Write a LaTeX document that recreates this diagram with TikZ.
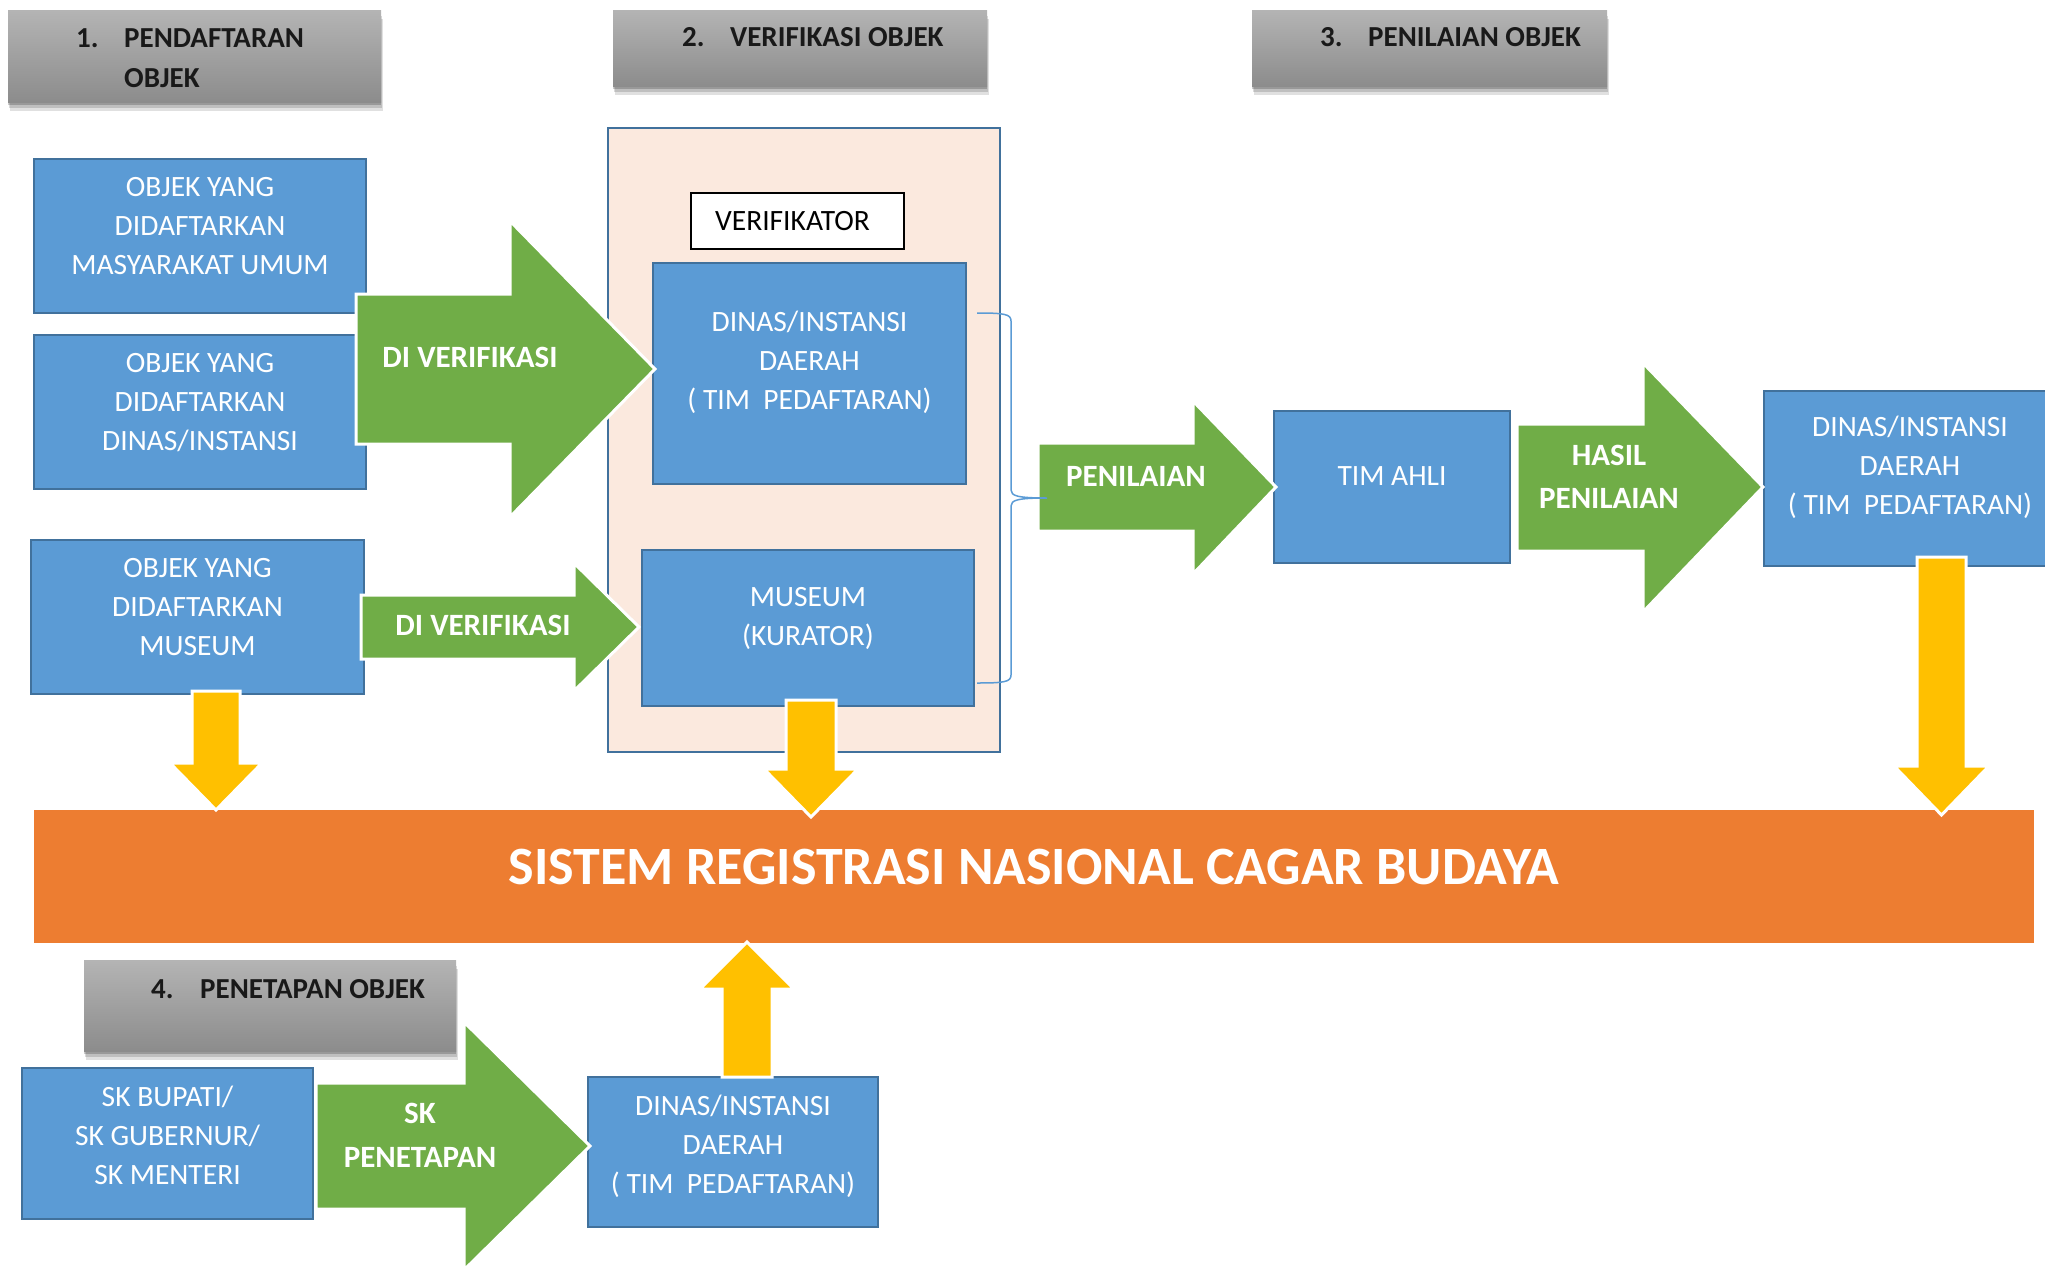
\documentclass[tikz,border=0pt]{standalone}
\usepackage{fontspec}
\setmainfont{Carlito}
\usetikzlibrary{shadows,positioning}
\definecolor{boxblue}{RGB}{91,155,213}
\definecolor{boxedge}{RGB}{65,113,156}
\definecolor{arrgreen}{RGB}{112,173,71}
\definecolor{arryellow}{RGB}{255,192,0}
\definecolor{barorange}{RGB}{237,125,49}
\definecolor{peach}{RGB}{251,233,222}
\definecolor{hdtop}{RGB}{180,180,180}
\definecolor{hdbot}{RGB}{140,140,140}

\begin{document}
\begin{tikzpicture}[x=1pt, y=-1pt,
        box/.style={rectangle, draw=boxedge, line width=2.5pt, fill=boxblue, text=white, align=center, inner sep=0pt, text depth=5pt, font=\fontsize{29.5pt}{39pt}\selectfont},
        header/.style={rectangle, draw=none, top color=hdtop, bottom color=hdbot,
            drop shadow={shadow xshift=2pt, shadow yshift=-9pt, opacity=0.12, fill=black},
            drop shadow={shadow xshift=1pt, shadow yshift=-6pt, opacity=0.15, fill=black},
            drop shadow={shadow xshift=0pt, shadow yshift=-3pt, opacity=0.2, fill=black}},
        headtext/.style={anchor=base west, inner sep=0pt, align=left, text=black!90, font=\fontsize{29pt}{40pt}\selectfont\bfseries},
        greenarrow/.style={fill=arrgreen, draw=white, line width=3pt},
        yellowarrow/.style={fill=arryellow, draw=white, line width=3pt},
        arrtext/.style={anchor=base, inner sep=0pt, align=center, text=white, font=\fontsize{31pt}{43pt}\selectfont\bfseries},
        brace/.style={draw=boxblue, line width=1.5pt}]

        \useasboundingbox (0,0) rectangle (2045,1266);

        \node[rectangle, draw=boxedge, line width=2.5pt, fill=peach, minimum width=392pt, minimum height=624pt] (verifarea) at (804,440) {};

        \node[header, minimum width=373pt, minimum height=92pt] (h1) at (194.5,56) {};
        \node[header, minimum width=374pt, minimum height=76pt] (h2) at (800,48) {};
        \node[header, minimum width=355pt, minimum height=76pt] (h3) at (1429.5,48) {};
        \node[header, minimum width=372pt, minimum height=91pt] (h4) at (270,1005.5) {};
        \node[headtext] (h1txt) at (76,87) {\makebox[48pt][l]{1.}PENDAFTARAN\\\hspace*{48pt}OBJEK};
        \node[headtext] (h2txt) at (682,46.5) {\makebox[48pt][l]{2.}VERIFIKASI OBJEK};
        \node[headtext] (h3txt) at (1320,46.5) {\makebox[48pt][l]{3.}PENILAIAN OBJEK};
        \node[headtext] (h4txt) at (151,998) {\makebox[49pt][l]{4.}PENETAPAN OBJEK};

        \node[box, minimum width=332pt, minimum height=154pt, text height=81.6pt] (masy) at (200,236) {OBJEK YANG\\DIDAFTARKAN\\MASYARAKAT UMUM};
        \node[box, minimum width=332pt, minimum height=154pt, text height=81.6pt] (dinasobj) at (200,412) {OBJEK YANG\\DIDAFTARKAN\\DINAS/INSTANSI};
        \node[box, minimum width=333pt, minimum height=154pt, text height=81.6pt] (museumobj) at (197.5,617) {OBJEK YANG\\DIDAFTARKAN\\MUSEUM};
        \node[rectangle, draw=black, line width=2.5pt, fill=white, minimum width=213pt, minimum height=56pt, font=\fontsize{29.5pt}{39pt}\selectfont] (verif) at (797.5,221) {VERIFIKATOR\hspace*{10pt}};
        \node[box, minimum width=313pt, minimum height=221pt, text height=76.6pt] (dinasv) at (809.5,373.5) {DINAS/INSTANSI\\DAERAH\\(\ TIM\ \ PEDAFTARAN)};
        \node[box, minimum width=332pt, minimum height=156pt, text height=40.6pt] (kurator) at (808,628) {MUSEUM\\(KURATOR)};
        \node[box, minimum width=236pt, minimum height=152pt, text height=1.6pt] (timahli) at (1392,487) {TIM AHLI};
        \node[box, minimum width=292pt, minimum height=175pt, text height=77.6pt] (dinasr) at (1910,478.5) {DINAS/INSTANSI\\DAERAH\\(\ TIM\ \ PEDAFTARAN)};
        \node[box, minimum width=291pt, minimum height=151pt, text height=87.6pt] (skbox) at (167.5,1143.5) {SK BUPATI/\\SK GUBERNUR/\\SK MENTERI};
        \node[box, minimum width=290pt, minimum height=150pt, text height=87.6pt] (dinasb) at (733,1152) {DINAS/INSTANSI\\DAERAH\\(\ TIM\ \ PEDAFTARAN)};

        \node[rectangle, fill=barorange, minimum width=2000pt, minimum height=133pt, inner sep=0pt, text=white, text height=35pt, text depth=20pt, font=\fontsize{54pt}{60pt}\selectfont\bfseries] (srn) at (1034,876.5) {SISTEM REGISTRASI NASIONAL CAGAR BUDAYA};

        \draw[greenarrow] (356,294) -- (510,294) -- (510,221) -- (655,369) -- (510,517) -- (510,444) -- (356,444) -- cycle;
        \node[arrtext] (verif1txt) at (470,367) {DI VERIFIKASI};
        \draw[greenarrow] (361,595) -- (574,595) -- (574,563) -- (639,627) -- (574,691) -- (574,659) -- (361,659) -- cycle;
        \node[arrtext] (verif2txt) at (483,635) {DI VERIFIKASI};
        \draw[greenarrow] (1038,443) -- (1193,443) -- (1193,401) -- (1276,487) -- (1193,574) -- (1193,531) -- (1038,531) -- cycle;
        \node[arrtext] (nilaitxt) at (1136,486) {PENILAIAN};
        \draw[greenarrow] (1517,424) -- (1643,424) -- (1643,363) -- (1763,487) -- (1643,612) -- (1643,551) -- (1517,551) -- cycle;
        \node[arrtext] (hasiltxt) at (1609,508) {HASIL\\PENILAIAN};
        \draw[greenarrow] (316,1083) -- (464,1083) -- (464,1022) -- (590,1146) -- (464,1270) -- (464,1209) -- (316,1209) -- cycle;
        \node[arrtext, font=\fontsize{31pt}{44pt}\selectfont\bfseries] (sktxt) at (420,1167) {SK\\PENETAPAN};

        \coordinate (brtop) at (977,313);
        \coordinate (brtip) at (1047,498);
        \coordinate (brbot) at (977,683);
        \draw[brace] (brtop) .. controls (1004,313) and (1011,314) .. (1011,321) -- (1011,490) .. controls (1011,496) and (1018,498) .. (brtip) .. controls (1018,498) and (1011,500) .. (1011,506) -- (1011,675) .. controls (1011,682) and (1004,683) .. (brbot);

        \draw[yellowarrow] (192,691) -- (240,691) -- (240,763) -- (262,763) -- (216,810) -- (170,763) -- (192,763) -- cycle;
        \draw[yellowarrow] (786,700) -- (836,700) -- (836,769) -- (858,769) -- (811,817) -- (764,769) -- (786,769) -- cycle;
        \draw[yellowarrow] (1917,557) -- (1966,557) -- (1966,766) -- (1989,766) -- (1941.5,815) -- (1894,766) -- (1917,766) -- cycle;
        \draw[yellowarrow] (722,1077) -- (772,1077) -- (772,989) -- (794,989) -- (747,942) -- (700,989) -- (722,989) -- cycle;

    \end{tikzpicture}
\end{document}
